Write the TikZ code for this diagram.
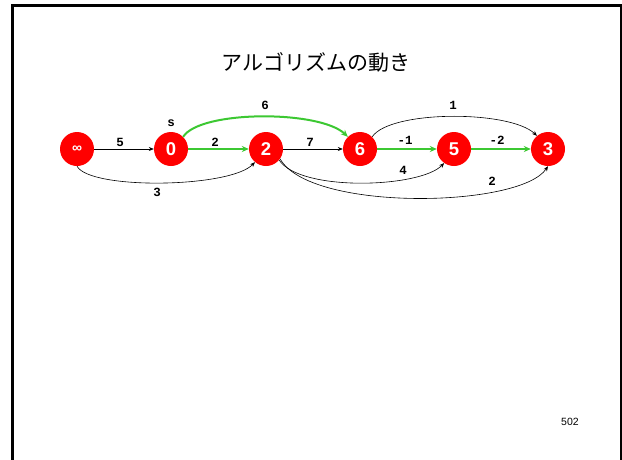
\documentclass[tikz,border=0pt]{standalone}
\usepackage{fontspec}
\setmainfont{Liberation Sans}
\newfontfamily\cjk{Noto Sans CJK JP}
\newfontfamily\monob{Liberation Mono}
\usetikzlibrary{arrows.meta}
\begin{document}
\begin{tikzpicture}[x=1pt,y=-1pt,
  vtx/.style={circle,fill=red,minimum size=34pt,inner sep=0pt,text=white,font=\bfseries\fontsize{18.5}{18.5}\selectfont},
  thin edge/.style={draw=black,line width=0.6pt,-{Stealth[length=5pt,width=4pt]}},
  green edge/.style={draw={rgb,255:red,60;green,200;blue,50},line width=2pt,-{Stealth[length=7pt,width=6pt]}},
  wlabel/.style={font=\monob\bfseries\fontsize{12.5}{12.5}\selectfont,inner sep=0pt}]
\useasboundingbox (0,0) rectangle (622,459);
\fill[white] (0,0) rectangle (622,459);
\draw[line width=3pt] (12.5,5) rectangle (621,480);
\node[font=\cjk\fontsize{21}{21}\selectfont] (title) at (316,62) {アルゴリズムの動き};
\node[font=\fontsize{10.5}{10.5}\selectfont] (page) at (570,422) {502};

\node[vtx] (ninf) at (77,149) {\fontsize{14}{14}\selectfont ∞};
\node[vtx] (n0) at (171,149) {0};
\node[vtx] (n2) at (266,149) {2};
\node[vtx] (n6) at (360,149) {6};
\node[vtx] (n5) at (454,149) {5};
\node[vtx] (n3) at (548,149) {3};

\node[wlabel] (s) at (171,123) {s};

\draw[thin edge] (ninf) -- (n0);
\draw[green edge] (n0) -- (n2);
\draw[thin edge] (n2) -- (n6);
\draw[green edge] (n6) -- (n5);
\draw[green edge] (n5) -- (n3);

\draw[green edge] (n0.45) .. controls (200,110) and (320,110) .. (n6.135);
\draw[thin edge] (ninf.-90) .. controls (90,190) and (230,188) .. (n2.-130);
\draw[thin edge] (n6.45) .. controls (390,110) and (510,110) .. (n3.130);
\draw[thin edge] (n2.-40) .. controls (300,192) and (420,188) .. (n5.-125);
\draw[thin edge] (n2.-35) .. controls (310,212) and (520,208) .. (n3.-90);

\node[wlabel] (l5) at (120,142) {5};
\node[wlabel] (l2a) at (215,142) {2};
\node[wlabel] (l7) at (310,142) {7};
\node[wlabel] (lm1) at (405,140) {-1};
\node[wlabel] (lm2) at (497,140) {-2};
\node[wlabel] (l6) at (265,105) {6};
\node[wlabel] (l3) at (157,192) {3};
\node[wlabel] (l1) at (453,105) {1};
\node[wlabel] (l4) at (403,170) {4};
\node[wlabel] (l2b) at (492,181) {2};
\end{tikzpicture}
\end{document}
